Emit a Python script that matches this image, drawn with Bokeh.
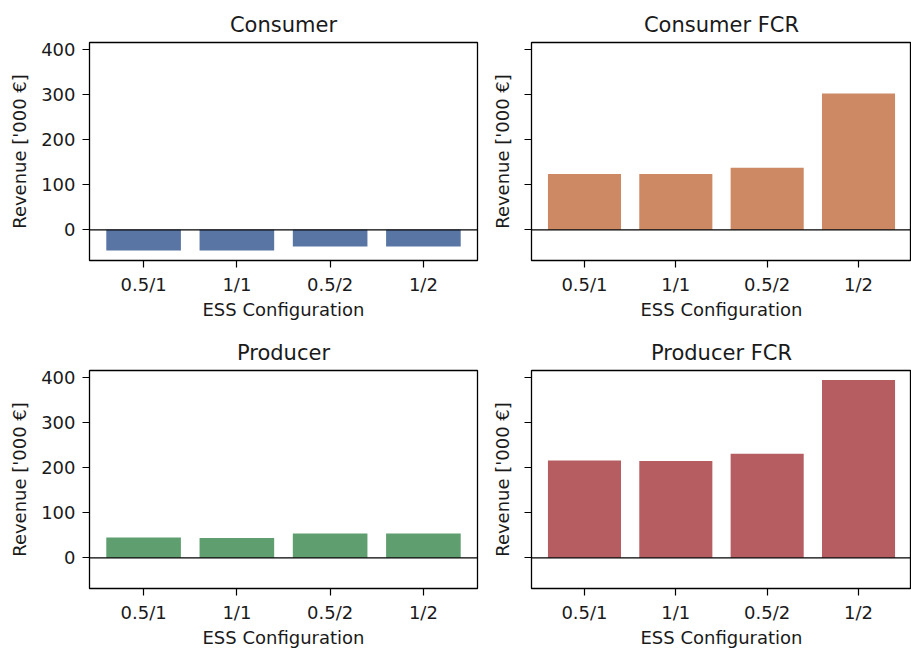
from bokeh.plotting import figure
from bokeh.layouts import column, row
from bokeh.models import Range1d, FactorRange, FixedTicker, Span
from bokeh.embed import file_html
from bokeh.resources import INLINE

categories = ["0.5/1", "1/1", "0.5/2", "1/2"]
consumer = [-46, -46, -37, -37]
consumer_fcr = [124, 124, 138, 303]
producer = [45, 44, 54, 54]
producer_fcr = [216, 215, 231, 395]
titles = ["Consumer", "Consumer FCR", "Producer", "Producer FCR"]
colors = ["#5875A4", "#CC8963", "#5F9E6E", "#B55D60"]
y_ticks = [0, 100, 200, 300, 400]
x_label = "ESS Configuration"
y_label = "Revenue ['000 €]"

FONT = "DejaVu Sans"
TXT = "#1a1a1a"


def make(title, values, color, show_ylabels, frame_w, bl, br, bt, bb):
    p = figure(
        x_range=FactorRange(factors=categories, range_padding=0.08,
                            range_padding_units="absolute"),
        y_range=Range1d(-68, 416),
        frame_width=frame_w, frame_height=218,
        min_border_left=bl, min_border_right=br,
        min_border_top=bt, min_border_bottom=bb,
        output_backend="svg", toolbar_location=None, title=title,
    )
    p.vbar(x=categories, top=values, width=0.8, fill_color=color,
           line_color=None)
    p.add_layout(Span(location=0, dimension="width", line_color="black",
                      line_width=1.3))
    p.title.text_font = FONT
    p.title.text_font_size = "21px"
    p.title.text_font_style = "normal"
    p.title.text_color = TXT
    p.title.align = "center"
    p.title.standoff = 12
    p.outline_line_color = "black"
    p.outline_line_width = 1.3
    p.outline_line_alpha = 1.0
    p.xgrid.visible = False
    p.ygrid.visible = False
    p.background_fill_color = "white"
    p.border_fill_color = "white"
    for ax in (p.xaxis[0], p.yaxis[0]):
        ax.axis_line_color = None
        ax.major_tick_in = 0
        ax.major_tick_out = 7
        ax.major_tick_line_color = "black"
        ax.major_tick_line_width = 1.2
        ax.minor_tick_line_color = None
        ax.major_label_text_font = FONT
        ax.major_label_text_font_size = "18px"
        ax.major_label_text_color = TXT
        ax.axis_label_text_font = FONT
        ax.axis_label_text_font_size = "18px"
        ax.axis_label_text_font_style = "normal"
        ax.axis_label_text_color = TXT
        ax.major_label_standoff = 7
    p.xaxis.axis_label = x_label
    p.xaxis.major_label_standoff = 6
    p.xaxis.axis_label_standoff = 1
    p.yaxis.axis_label = y_label
    p.yaxis.ticker = FixedTicker(ticks=y_ticks)
    p.yaxis.axis_label_standoff = 8
    if not show_ylabels:
        p.yaxis.major_label_overrides = {t: "" for t in y_ticks}
        p.yaxis.major_label_standoff = 0
        p.yaxis.axis_label_standoff = 12
    return p


p1 = make(titles[0], consumer, colors[0], True, 388, 89, 5, 42, 66)
p2 = make(titles[1], consumer_fcr, colors[1], False, 380, 49, 0, 42, 66)
p3 = make(titles[2], producer, colors[2], True, 388, 89, 5, 44, 62)
p4 = make(titles[3], producer_fcr, colors[3], False, 380, 49, 0, 44, 62)

layout = column(row(p1, p2), row(p3, p4))

open("out.html", "w").write(file_html(layout, INLINE))
